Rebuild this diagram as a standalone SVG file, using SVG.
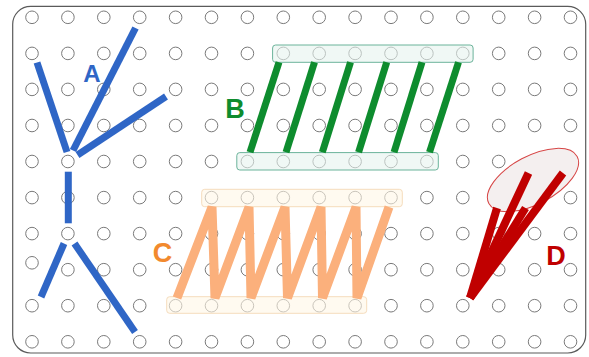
<svg xmlns="http://www.w3.org/2000/svg" xmlns:xlink="http://www.w3.org/1999/xlink" width="589" height="357" viewBox="0 0 589 357">
<style>
.peg{fill:#ffffff;stroke:#7a7a7a;stroke-width:1}
.lbl{font-family:"Liberation Sans","Open Sans",Arial,sans-serif;font-weight:bold;text-anchor:middle}
.a{stroke:#2F66C6;stroke-width:7;fill:none;stroke-linecap:butt}
.b{stroke:#0E8C2E;stroke-width:7;fill:none;stroke-linecap:butt}
.c{stroke:#FBB07C;stroke-width:9;fill:none;stroke-linejoin:bevel;stroke-linecap:butt}
.d{stroke:#C00000;stroke-width:8;fill:none;stroke-linecap:butt}
</style>
<defs>
<circle id="p" r="6.3" class="peg"/>
</defs>
<rect x="0" y="0" width="589" height="357" fill="#ffffff"/>
<rect id="board" x="12.7" y="6.3" width="573" height="346.7" rx="18" fill="#ffffff" stroke="#5a5a5a" stroke-width="1.2"/>
<g id="pegs">
<g id="row0"><use href="#p" x="32" y="17.3"/><use href="#p" x="67.9" y="17.3"/><use href="#p" x="103.8" y="17.3"/><use href="#p" x="139.7" y="17.3"/><use href="#p" x="175.6" y="17.3"/><use href="#p" x="211.5" y="17.3"/><use href="#p" x="247.4" y="17.3"/><use href="#p" x="283.3" y="17.3"/><use href="#p" x="319.2" y="17.3"/><use href="#p" x="355.1" y="17.3"/><use href="#p" x="391" y="17.3"/><use href="#p" x="426.9" y="17.3"/><use href="#p" x="462.8" y="17.3"/><use href="#p" x="498.7" y="17.3"/><use href="#p" x="534.6" y="17.3"/><use href="#p" x="570.5" y="17.3"/></g>
<g id="row1"><use href="#p" x="32" y="53.4"/><use href="#p" x="67.9" y="53.4"/><use href="#p" x="103.8" y="53.4"/><use href="#p" x="139.7" y="53.4"/><use href="#p" x="175.6" y="53.4"/><use href="#p" x="211.5" y="53.4"/><use href="#p" x="247.4" y="53.4"/><use href="#p" x="283.3" y="53.4"/><use href="#p" x="319.2" y="53.4"/><use href="#p" x="355.1" y="53.4"/><use href="#p" x="391" y="53.4"/><use href="#p" x="426.9" y="53.4"/><use href="#p" x="462.8" y="53.4"/><use href="#p" x="498.7" y="53.4"/><use href="#p" x="534.6" y="53.4"/><use href="#p" x="570.5" y="53.4"/></g>
<g id="row2"><use href="#p" x="32" y="89.4"/><use href="#p" x="67.9" y="89.4"/><use href="#p" x="103.8" y="89.4"/><use href="#p" x="139.7" y="89.4"/><use href="#p" x="175.6" y="89.4"/><use href="#p" x="211.5" y="89.4"/><use href="#p" x="247.4" y="89.4"/><use href="#p" x="283.3" y="89.4"/><use href="#p" x="319.2" y="89.4"/><use href="#p" x="355.1" y="89.4"/><use href="#p" x="391" y="89.4"/><use href="#p" x="426.9" y="89.4"/><use href="#p" x="462.8" y="89.4"/><use href="#p" x="498.7" y="89.4"/><use href="#p" x="534.6" y="89.4"/><use href="#p" x="570.5" y="89.4"/></g>
<g id="row3"><use href="#p" x="32" y="125.5"/><use href="#p" x="67.9" y="125.5"/><use href="#p" x="103.8" y="125.5"/><use href="#p" x="139.7" y="125.5"/><use href="#p" x="175.6" y="125.5"/><use href="#p" x="211.5" y="125.5"/><use href="#p" x="247.4" y="125.5"/><use href="#p" x="283.3" y="125.5"/><use href="#p" x="319.2" y="125.5"/><use href="#p" x="355.1" y="125.5"/><use href="#p" x="391" y="125.5"/><use href="#p" x="426.9" y="125.5"/><use href="#p" x="462.8" y="125.5"/><use href="#p" x="498.7" y="125.5"/><use href="#p" x="534.6" y="125.5"/><use href="#p" x="570.5" y="125.5"/></g>
<g id="row4"><use href="#p" x="32" y="161.5"/><use href="#p" x="67.9" y="161.5"/><use href="#p" x="103.8" y="161.5"/><use href="#p" x="139.7" y="161.5"/><use href="#p" x="175.6" y="161.5"/><use href="#p" x="211.5" y="161.5"/><use href="#p" x="247.4" y="161.5"/><use href="#p" x="283.3" y="161.5"/><use href="#p" x="319.2" y="161.5"/><use href="#p" x="355.1" y="161.5"/><use href="#p" x="391" y="161.5"/><use href="#p" x="426.9" y="161.5"/><use href="#p" x="462.8" y="161.5"/><use href="#p" x="498.7" y="161.5"/><use href="#p" x="534.6" y="161.5"/><use href="#p" x="570.5" y="161.5"/></g>
<g id="row5"><use href="#p" x="32" y="197.6"/><use href="#p" x="67.9" y="197.6"/><use href="#p" x="103.8" y="197.6"/><use href="#p" x="139.7" y="197.6"/><use href="#p" x="175.6" y="197.6"/><use href="#p" x="211.5" y="197.6"/><use href="#p" x="247.4" y="197.6"/><use href="#p" x="283.3" y="197.6"/><use href="#p" x="319.2" y="197.6"/><use href="#p" x="355.1" y="197.6"/><use href="#p" x="391" y="197.6"/><use href="#p" x="426.9" y="197.6"/><use href="#p" x="462.8" y="197.6"/><use href="#p" x="498.7" y="197.6"/><use href="#p" x="534.6" y="197.6"/><use href="#p" x="570.5" y="197.6"/></g>
<g id="row6"><use href="#p" x="32" y="233.6"/><use href="#p" x="67.9" y="233.6"/><use href="#p" x="103.8" y="233.6"/><use href="#p" x="139.7" y="233.6"/><use href="#p" x="175.6" y="233.6"/><use href="#p" x="211.5" y="233.6"/><use href="#p" x="247.4" y="233.6"/><use href="#p" x="283.3" y="233.6"/><use href="#p" x="319.2" y="233.6"/><use href="#p" x="355.1" y="233.6"/><use href="#p" x="391" y="233.6"/><use href="#p" x="426.9" y="233.6"/><use href="#p" x="462.8" y="233.6"/><use href="#p" x="498.7" y="233.6"/><use href="#p" x="534.6" y="233.6"/><use href="#p" x="570.5" y="233.6"/></g>
<g id="row7"><use href="#p" x="32" y="262.8"/><use href="#p" x="67.9" y="269.7"/><use href="#p" x="103.8" y="269.7"/><use href="#p" x="139.7" y="269.7"/><use href="#p" x="175.6" y="269.7"/><use href="#p" x="211.5" y="269.7"/><use href="#p" x="247.4" y="269.7"/><use href="#p" x="283.3" y="269.7"/><use href="#p" x="319.2" y="269.7"/><use href="#p" x="355.1" y="269.7"/><use href="#p" x="391" y="269.7"/><use href="#p" x="426.9" y="269.7"/><use href="#p" x="462.8" y="269.7"/><use href="#p" x="498.7" y="269.7"/><use href="#p" x="534.6" y="269.7"/><use href="#p" x="570.5" y="269.7"/></g>
<g id="row8"><use href="#p" x="32" y="305.7"/><use href="#p" x="67.9" y="305.7"/><use href="#p" x="103.8" y="305.7"/><use href="#p" x="139.7" y="305.7"/><use href="#p" x="175.6" y="305.7"/><use href="#p" x="211.5" y="305.7"/><use href="#p" x="247.4" y="305.7"/><use href="#p" x="283.3" y="305.7"/><use href="#p" x="319.2" y="305.7"/><use href="#p" x="355.1" y="305.7"/><use href="#p" x="391" y="305.7"/><use href="#p" x="426.9" y="305.7"/><use href="#p" x="462.8" y="305.7"/><use href="#p" x="498.7" y="305.7"/><use href="#p" x="534.6" y="305.7"/><use href="#p" x="570.5" y="305.7"/></g>
<g id="row9"><use href="#p" x="32" y="341.8"/><use href="#p" x="67.9" y="341.8"/><use href="#p" x="103.8" y="341.8"/><use href="#p" x="139.7" y="341.8"/><use href="#p" x="175.6" y="341.8"/><use href="#p" x="211.5" y="341.8"/><use href="#p" x="247.4" y="341.8"/><use href="#p" x="283.3" y="341.8"/><use href="#p" x="319.2" y="341.8"/><use href="#p" x="355.1" y="341.8"/><use href="#p" x="391" y="341.8"/><use href="#p" x="426.9" y="341.8"/><use href="#p" x="462.8" y="341.8"/><use href="#p" x="498.7" y="341.8"/><use href="#p" x="534.6" y="341.8"/><use href="#p" x="570.5" y="341.8"/></g>
</g>
<g id="figA">
<line class="a" x1="37" y1="62.5" x2="67" y2="152"/>
<line class="a" x1="135.5" y1="28" x2="73" y2="150.5"/>
<line class="a" x1="166" y1="96.5" x2="77.5" y2="155"/>
<line class="a" x1="68.3" y1="171.7" x2="68.3" y2="223.3"/>
<line class="a" x1="64" y1="243.5" x2="41" y2="297"/>
<line class="a" x1="74.5" y1="243.5" x2="135" y2="332"/>
<text class="lbl" x="92" y="82" font-size="24" fill="#2F66C6">A</text>
</g>
<g id="figB">
<rect x="272.6" y="45" width="200.5" height="17.3" rx="3" fill="#E6F3EE" fill-opacity="0.6" stroke="#6BB39A" stroke-width="1"/>
<rect x="236.8" y="152.6" width="201.5" height="17.4" rx="3" fill="#E6F3EE" fill-opacity="0.6" stroke="#6BB39A" stroke-width="1"/>
<line class="b" x1="250" y1="152.3" x2="279" y2="62.3"/>
<line class="b" x1="286" y1="152.3" x2="314.5" y2="62.3"/>
<line class="b" x1="322.3" y1="152.3" x2="350.5" y2="62.3"/>
<line class="b" x1="358.6" y1="152.3" x2="386.7" y2="62.3"/>
<line class="b" x1="394" y1="152.3" x2="422" y2="62.3"/>
<line class="b" x1="429.5" y1="152.3" x2="458.5" y2="62.3"/>
<text class="lbl" x="235" y="118" font-size="27" fill="#0E8C2E">B</text>
</g>
<g id="figC">
<rect x="201.7" y="189.3" width="200.6" height="17.4" rx="3" fill="#FFF6E6" fill-opacity="0.6" stroke="#F5DCBC" stroke-width="1"/>
<rect x="166.7" y="296.7" width="200" height="16.6" rx="3" fill="#FFF6E6" fill-opacity="0.6" stroke="#F5DCBC" stroke-width="1"/>
<polyline class="c" points="177,298 212,207 215,298 249,207 251,298 285,207 287.5,298 321,207 322.5,298 356,207 357,298 389,207"/>
<text class="lbl" x="162.5" y="261.5" font-size="27" fill="#F28A2E">C</text>
</g>
<g id="figD">
<ellipse cx="533" cy="180" rx="50" ry="24" transform="rotate(-28 533 180)" fill="#F4EFEF" stroke="#D64545" stroke-width="1"/>
<line class="d" x1="470" y1="298" x2="497" y2="208"/>
<line class="d" x1="470" y1="298" x2="528.5" y2="173"/>
<line class="d" x1="470" y1="298" x2="525.5" y2="208"/>
<line class="d" x1="470" y1="298" x2="563" y2="173"/>
<text class="lbl" x="556" y="265" font-size="27" fill="#C00000">D</text>
</g>
</svg>
